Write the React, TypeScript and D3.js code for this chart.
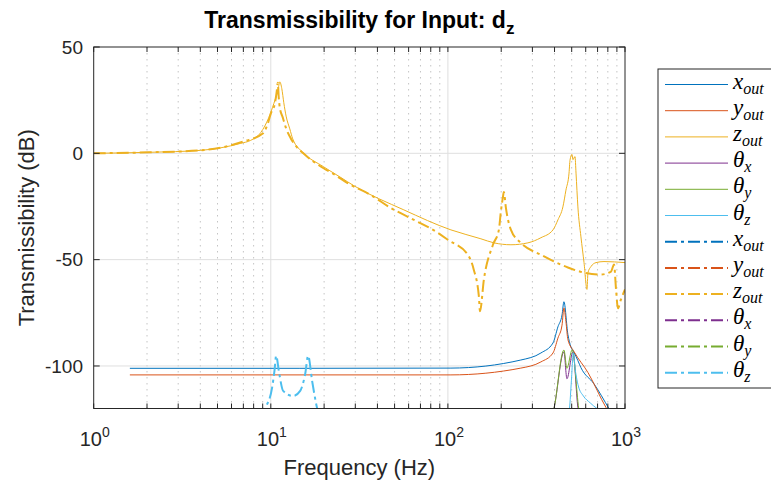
import React from 'react';
import * as d3 from 'd3';

const W = 771;
const H = 483;
const M = { left: 93.7, right: 625, top: 47, bottom: 408.5 };

// axis ticks
const xMajorTicks = [1, 10, 100, 1000];
const xMajorExps = ['0', '1', '2', '3'];
const xMinorMult = [2, 3, 4, 5, 6, 7, 8, 9];
const yTicks = [50, 0, -50, -100];
const yTickLabels = ['50', '0', '-50', '-100'];

// series colours (MATLAB default order)
const seriesColors = ['#0072BD', '#D95319', '#EDB120', '#7E2F8E', '#77AC30', '#4DBEEE'];
const seriesBase = ['x', 'y', 'z', 'θ', 'θ', 'θ'];
const seriesSub = ['out', 'out', 'out', 'x', 'y', 'z'];

// ---- solid curves: [frequency Hz, dB]
const xOutSolid: [number, number][] = [
  [1.6, -101.1], [14.6, -101.1], [104, -101.0], [258, -97.2], [335, -93.9], [392, -89.2],
  [418, -81.6], [441, -76.0], [452, -69.8], [476, -85.2], [495, -91.0], [515, -93.6],
  [542, -97.5], [564, -100.8], [668, -108.4], [813, -120.1], [858, -123.3],
];
const yOutSolid: [number, number][] = [
  [1.6, -104.2], [104, -104.2], [258, -101.0], [335, -98.1], [392, -93.9], [418, -86.9],
  [441, -80.8], [452, -72.7], [464, -79.2], [476, -87.6], [515, -93.2], [618, -103.1],
  [782, -119.6], [829, -123],
];
const zOutSolid: [number, number][] = [
  [1, 0], [2.1, 0.5], [4.02, 1.4], [6.76, 4.7], [7.7, 6.1], [8.78, 9.8], [9.74, 16.8],
  [10.4, 23.4], [10.96, 29.4], [11.24, 33.6], [11.54, 30.4], [11.84, 23.8], [12.2, 17.5],
  [12.8, 11.5], [13.3, 6.8], [15.3, 0.2], [19.75, -6.2], [24.9, -11.4], [29.4, -15.2], [56.4, -26.6],
  [104, -36.0], [153.6, -40.2], [182, -42.1], [227, -43.0], [283, -42.1], [335, -39.7],
  [392, -36.0], [418, -31.3], [446, -25.2], [464, -17.3], [483, -9.3], [489, -3.3],
  [502, -0.5], [508, -3.0], [522, -1.5], [529, -9.3], [542, -25.2], [564, -39.3],
  [587, -51.4], [610, -64.0], [618, -56.1], [642, -53.3], [686, -51.4], [761, -50.9],
  [1000, -51.4],
];
const thetaXSolid: [number, number][] = [
  [382, -125], [397, -120], [452, -93.4], [470, -106.0], [508, -93.4], [542, -119.6], [556, -125],
];
const thetaYSolid: [number, number][] = [
  [382, -125], [397, -120], [452, -92.5], [470, -101.1], [503, -92.4], [548, -120], [560, -125],
];
const thetaZSolid: [number, number][] = [
  [472, -125], [486, -120], [498, -107], [511, -93.8], [524, -101.8], [545, -109.4],
  [582, -114.1], [637, -117.4], [695, -120], [782, -122],
];

// ---- dash-dot curves: [frequency Hz, dB]
const xOutDashDot: [number, number][] = []; // below visible range
const yOutDashDot: [number, number][] = []; // below visible range
const zOutDashDot: [number, number][] = [
  [1, 0], [2.1, 0.5], [4.02, 1.4], [7.04, 5.6], [9.01, 9.3], [9.62, 14.0], [10.0, 18.7],
  [10.54, 23.4], [10.81, 29.4], [10.95, 33.2], [11.09, 26.2], [11.24, 21.5], [11.69, 16.8],
  [12.16, 12.1], [12.97, 7.0], [14.0, 3.0], [15.2, 0.1], [19.75, -6.9], [22.7, -9.8],
  [27.0, -13.9], [36.7, -19.6], [47.6, -25.7], [64.3, -31.3], [87.8, -37.4], [100, -40.7],
  [129.7, -47.7], [140, -54.7], [149.6, -67.3], [151.7, -74.3], [159.7, -59.3], [179.6, -43.0],
  [194, -36.0], [199, -27.6], [204.5, -20.6], [207, -18.2], [212.6, -25.7], [227, -36.0],
  [258, -42.1], [335, -47.7], [476, -53.7], [587, -56.1], [731, -57.0], [834, -55.6],
  [867, -52.3], [890, -64.0], [912, -72.9], [949, -68.7], [1000, -64.0],
];
const thetaXDashDot: [number, number][] = []; // below visible range
const thetaYDashDot: [number, number][] = []; // below visible range
const thetaZDashDot: [number, number][] = [
  [8.7, -125], [9.29, -120], [10.17, -110.2], [10.5, -102], [10.72, -95.2], [11.14, -103.2],
  [11.74, -111.7], [13.37, -114.1], [14.65, -111.7], [15.64, -103.7], [16.25, -95.2],
  [17.11, -107.0], [18.27, -120], [19, -125],
];

const solidSeries = [xOutSolid, yOutSolid, zOutSolid, thetaXSolid, thetaYSolid, thetaZSolid];
const dashSeries = [xOutDashDot, yOutDashDot, zOutDashDot, thetaXDashDot, thetaYDashDot, thetaZDashDot];

const FONT = '"Liberation Sans", Arial, Helvetica, sans-serif';
const SERIF = '"Liberation Serif", "Times New Roman", serif';
const DASH = '12 4 3 4';

export default function App() {
  const xs = d3.scaleLog().domain([1, 1000]).range([M.left, M.right]);
  const ys = d3.scaleLinear().domain([-120, 50]).range([M.bottom, M.top]);
  const line = d3
    .line<[number, number]>()
    .x((d) => xs(d[0]))
    .y((d) => ys(d[1]))
    .curve(d3.curveMonotoneX);

  const minorTicks: number[] = [];
  [1, 10, 100].forEach((dec) => xMinorMult.forEach((m) => minorTicks.push(dec * m)));

  const legendX = 658;
  const legendTop = 69;
  const legendBottom = 388;
  const rowY0 = 84.5;
  const rowStep = 26.2;

  const legendRows = [
    ...seriesColors.map((c, i) => ({ c, i, dash: false })),
    ...seriesColors.map((c, i) => ({ c, i, dash: true })),
  ];

  return (
    <svg width={W} height={H} style={{ position: 'absolute', left: 0, top: 0, background: '#fff' }}>
      <defs>
        <clipPath id="plotClip">
          <rect x={M.left} y={M.top} width={M.right - M.left} height={M.bottom - M.top} />
        </clipPath>
      </defs>
      <rect x={0} y={0} width={W} height={H} fill="#fff" />
      <rect x={M.left} y={M.top} width={M.right - M.left} height={M.bottom - M.top} fill="#fff" />

      {/* minor grid */}
      {minorTicks.map((t) => (
        <line key={'mg' + t} x1={xs(t)} x2={xs(t)} y1={M.top} y2={M.bottom}
          stroke="#c4c4c4" strokeWidth={1} strokeDasharray="1.5 4.5" />
      ))}
      {/* major grid */}
      {xMajorTicks.slice(1, 3).map((t) => (
        <line key={'xg' + t} x1={xs(t)} x2={xs(t)} y1={M.top} y2={M.bottom} stroke="#dfdfdf" strokeWidth={1} />
      ))}
      {yTicks.slice(1).map((t) => (
        <line key={'yg' + t} x1={M.left} x2={M.right} y1={ys(t)} y2={ys(t)} stroke="#dfdfdf" strokeWidth={1} />
      ))}

      {/* curves */}
      <g clipPath="url(#plotClip)">
        {solidSeries.map((s, i) =>
          s.length ? (
            <path key={'s' + i} d={line(s) || ''} fill="none" stroke={seriesColors[i]} strokeWidth={1} />
          ) : null
        )}
        {dashSeries.map((s, i) =>
          s.length ? (
            <path key={'d' + i} d={line(s) || ''} fill="none" stroke={seriesColors[i]} strokeWidth={2}
              strokeDasharray={DASH} />
          ) : null
        )}
      </g>

      {/* axes box */}
      <rect x={M.left} y={M.top} width={M.right - M.left} height={M.bottom - M.top} fill="none"
        stroke="#262626" strokeWidth={1} />
      {/* x ticks */}
      {[...xMajorTicks, ...minorTicks].map((t) => (
        <g key={'xt' + t}>
          <line x1={xs(t)} x2={xs(t)} y1={M.bottom} y2={M.bottom - 5} stroke="#262626" />
          <line x1={xs(t)} x2={xs(t)} y1={M.top} y2={M.top + 5} stroke="#262626" />
        </g>
      ))}
      {/* y ticks */}
      {yTicks.map((t) => (
        <g key={'yt' + t}>
          <line x1={M.left} x2={M.left + 6} y1={ys(t)} y2={ys(t)} stroke="#262626" />
          <line x1={M.right} x2={M.right - 6} y1={ys(t)} y2={ys(t)} stroke="#262626" />
        </g>
      ))}

      {/* x tick labels */}
      {xMajorTicks.map((t, i) => (
        <text key={'xl' + t} x={xs(t) + 1} y={446} textAnchor="middle" fontFamily={FONT} fontSize={20} fill="#262626">
          10<tspan dy={-9} fontSize={14}>{xMajorExps[i]}</tspan>
        </text>
      ))}
      {/* y tick labels */}
      {yTicks.map((t, i) => (
        <text key={'yl' + t} x={83} y={ys(t)} dy="0.35em" textAnchor="end" fontFamily={FONT} fontSize={19} fill="#262626">
          {yTickLabels[i]}
        </text>
      ))}

      {/* axis labels */}
      <text x={(M.left + M.right) / 2} y={475} textAnchor="middle" fontFamily={FONT} fontSize={22} fill="#262626">
        Frequency (Hz)
      </text>
      <text transform={`translate(34,${(M.top + M.bottom) / 2}) rotate(-90)`} textAnchor="middle"
        fontFamily={FONT} fontSize={22} fill="#262626">
        Transmissibility (dB)
      </text>

      {/* title */}
      <text x={(M.left + M.right) / 2} y={28} textAnchor="middle" fontFamily={FONT} fontSize={23}
        fontWeight="bold" fill="#000">
        Transmissibility for Input: d<tspan dy={6} fontSize={17}>z</tspan>
      </text>

      {/* legend */}
      <rect x={legendX} y={legendTop} width={W - legendX + 10} height={legendBottom - legendTop}
        fill="#fff" stroke="#262626" strokeWidth={1} />
      {legendRows.map((r, k) => {
        const y = rowY0 + k * rowStep;
        return (
          <g key={'lg' + k}>
            <line x1={665} x2={728} y1={y} y2={y} stroke={r.c} strokeWidth={r.dash ? 2 : 1}
              strokeDasharray={r.dash ? DASH : undefined} />
            <text x={733} y={y + 4} fontFamily={SERIF} fontStyle="italic" fontSize={23} fill="#000">
              {seriesBase[r.i]}
              <tspan dy={5} fontSize={16}>{seriesSub[r.i]}</tspan>
            </text>
          </g>
        );
      })}
    </svg>
  );
}
